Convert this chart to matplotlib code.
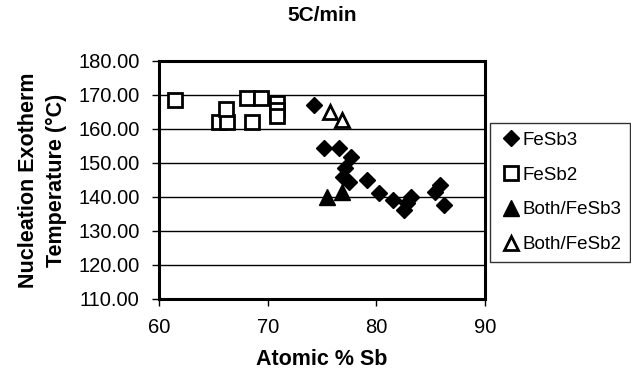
import numpy as np
import matplotlib.pyplot as plt
from matplotlib.ticker import FormatStrFormatter

plt.rcParams['font.family'] = ['Liberation Sans', 'DejaVu Sans']

# FeSb3 (filled diamonds)
fesb3_x = [74.3, 75.2, 76.6, 77.7, 77.1, 76.9, 77.5, 79.1, 80.2, 81.5, 82.5, 82.8, 83.2, 85.4, 85.9, 86.2]
fesb3_y = [167.1, 154.3, 154.3, 151.9, 148.4, 146.0, 144.5, 145.0, 141.1, 139.1, 136.2, 138.2, 140.1, 141.6, 143.5, 137.6]

# FeSb2 (open squares)
fesb2_x = [61.5, 65.5, 66.3, 66.2, 68.1, 69.4, 68.6, 70.9, 70.9, 70.9]
fesb2_y = [168.5, 162.2, 162.2, 165.9, 169.1, 169.1, 162.1, 167.6, 165.6, 163.9]

# Both/FeSb3 (filled triangles)
both3_x = [75.5, 76.8]
both3_y = [140.1, 141.6]

# Both/FeSb2 (open triangles)
both2_x = [75.7, 76.8]
both2_y = [165.1, 162.6]

fig = plt.figure(figsize=(6.31, 3.79), dpi=100)
ax = fig.add_axes([159/631, 1 - 299/379, 326/631, 238/379])

ax.plot(fesb3_x, fesb3_y, 'D', ms=7.8, color='black', mec='black', label='FeSb3', clip_on=False, zorder=3)
ax.plot(fesb2_x, fesb2_y, 's', ms=10, mfc='white', mec='black', mew=2, label='FeSb2', clip_on=False, zorder=3)
ax.plot(both3_x, both3_y, '^', ms=11, color='black', label='Both/FeSb3', clip_on=False, zorder=3)
ax.plot(both2_x, both2_y, '^', ms=10, mfc='white', mec='black', mew=2, label='Both/FeSb2', clip_on=False, zorder=3)

ax.set_xlim(60, 90)
ax.set_ylim(110, 180)
ax.set_xticks([60, 70, 80, 90])
ax.set_yticks(np.arange(110, 181, 10))
ax.yaxis.set_major_formatter(FormatStrFormatter('%.2f'))
ax.tick_params(labelsize=14.5, length=5, width=1, direction='out')
ax.tick_params(axis='y', pad=9)
ax.tick_params(axis='x', pad=9)

ax.grid(axis='y', color='black', linewidth=1)
ax.set_axisbelow(True)
for s in ax.spines.values():
    s.set_linewidth(2.2)

ax.set_title('5C/min', fontsize=15, fontweight='bold', pad=29)
ax.set_xlabel('Atomic % Sb', fontsize=15.5, fontweight='bold', labelpad=8)
ax.set_ylabel('Nucleation Exotherm\nTemperature (°C)', fontsize=15.5, fontweight='bold',
              labelpad=8, linespacing=1.45)

leg = fig.legend(loc='upper left', bbox_to_anchor=(490/631, 1 - 123/379),
                 fontsize=13.5, frameon=True, fancybox=False, borderpad=0.45,
                 handletextpad=0.0, handlelength=1.3, labelspacing=0.95,
                 borderaxespad=0)
leg.get_frame().set_edgecolor('black')
leg.get_frame().set_linewidth(1)

fig.savefig('out.png', dpi=100)
